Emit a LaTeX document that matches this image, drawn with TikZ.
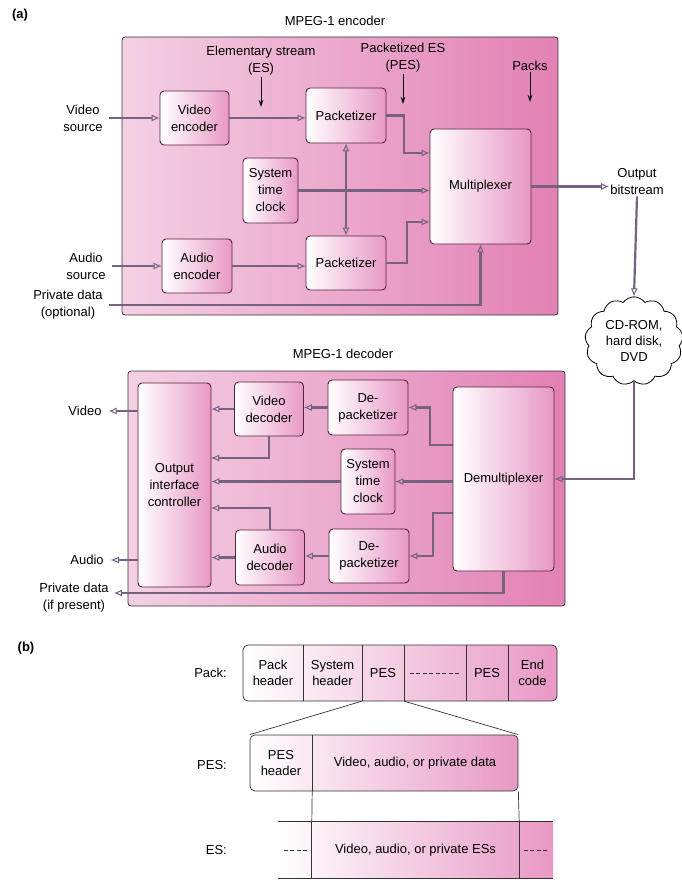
\documentclass[tikz,border=0pt]{standalone}
\usepackage{fontspec}
\setmainfont{Liberation Sans}
\usetikzlibrary{arrows.meta,shapes.symbols}
\definecolor{pinklo}{RGB}{244,208,227}
\definecolor{pinkhi}{RGB}{226,128,180}
\definecolor{boxhi}{RGB}{232,152,196}
\definecolor{flowgray}{RGB}{118,98,128}
\definecolor{rimcol}{RGB}{85,35,60}
\tikzset{
  panel/.style={
    rectangle,
    draw=black!80,
    line width=0.8pt,
    rounded corners=3pt,
    left color=pinklo,
    right color=pinkhi
  },
  unit/.style={
    rectangle,
    draw=rimcol,
    line width=0.9pt,
    rounded corners=4pt,
    left color=white,
    right color=boxhi,
    align=center,
    inner sep=0pt,
    font=\fontsize{13}{17}\selectfont
  },
  lbl/.style={
    align=center,
    inner sep=1pt,
    font=\fontsize{13}{17}\selectfont
  },
  flow/.style={
    -{Latex[open,length=8pt,width=7pt,line width=1pt]},
    draw=flowgray,
    line width=2.2pt
  },
  flowboth/.style={
    flow,
    {Latex[open,length=8pt,width=7pt,line width=1pt]}-{Latex[open,length=8pt,width=7pt,line width=1pt]}
  },
  tag/.style={
    -{Stealth[length=7pt,width=4.5pt]},
    line width=0.8pt
  },
  cell/.style={
    rectangle,
    inner sep=0pt,
    align=center,
    minimum height=56,
    font=\fontsize{13}{16}\selectfont
  },
  rule/.style={line width=0.7pt, draw=black!80}
}
\begin{document}
\begin{tikzpicture}[x=1pt,y=-1pt]
  \useasboundingbox (0,0) rectangle (682,880);

  % (a) encoder
  \node[font=\bfseries\fontsize{13}{15}\selectfont] (tga) at (20,15) {(a)};
  \node[lbl] (enct) at (335,21) {MPEG-1 encoder};
  \node[panel, minimum width=436, minimum height=278] (enc) at (340,176) {};

  \node[unit, minimum width=69, minimum height=54] (venc) at (194.5,118) {Video\\encoder};
  \node[unit, minimum width=80, minimum height=55] (pkta) at (346,115.5) {Packetizer};
  \node[unit, minimum width=55, minimum height=65] (stca) at (270.5,190.5) {System\\time\\clock};
  \node[unit, minimum width=70, minimum height=54] (aenc) at (197,266) {Audio\\encoder};
  \node[unit, minimum width=80, minimum height=54] (pktb) at (346,263) {Packetizer};
  \node[unit, minimum width=101, minimum height=115] (mux) at (480.5,186.5) {Multiplexer};

  \node[lbl] (vsrc) at (83,118) {Video\\source};
  \node[lbl] (asrc) at (86,266) {Audio\\source};
  \node[lbl] (prv) at (68,305) {Private data\\(optional)};
  \node[lbl] (esl) at (261,61) {Elementary stream\\(ES)};
  \node[lbl] (pesl) at (403,58) {Packetized ES\\(PES)};
  \node[lbl] (pksl) at (530,66) {Packs};
  \coordinate (esp) at (262,107);
  \coordinate (pesp) at (403,104);
  \coordinate (pksp) at (530,102);
  \coordinate (ja) at (404,153);
  \coordinate (jb) at (407,222);

  \draw[tag] (esl.south) -- (esl.south |- esp);
  \draw[tag] (pesl.south) -- (pesl.south |- pesp);
  \draw[tag] (pksl.south) -- (pksl.south |- pksp);

  \draw[flow] ([xshift=5pt]vsrc.east) -- (venc.west);
  \draw[flow] ([xshift=5pt]asrc.east) -- (aenc.west);
  \draw[flow] (venc.east) -- (venc.east -| pkta.west);
  \draw[flow] (aenc.east) -- (aenc.east -| pktb.west);
  \draw[flow] (pkta.east) -| (ja) -- (ja -| mux.west);
  \draw[flow] (pktb.east) -| (jb) -- (jb -| mux.west);
  \draw[flow] (stca.east) -- (stca.east -| mux.west);
  \draw[flowboth] (pkta.south) -- (pktb.north);
  \draw[flow] ([xshift=5pt]prv.east) -| (mux.south);

  % output and storage
  \node[lbl] (outl) at (637,182) {Output\\bitstream};
  \node[cloud, cloud puffs=13, cloud puff arc=110, draw, line width=0.8pt, fill=white,
    minimum width=98, minimum height=86, inner sep=0pt, align=center,
    font=\fontsize{13}{16}\selectfont] (store) at (634,341) {CD-ROM,\\hard disk,\\DVD};
  \draw[flow] (mux.east) -- (mux.east -| outl.west);
  \draw[flow] (outl.south) -- (store.north);

  % decoder
  \node[lbl] (dect) at (343,354) {MPEG-1 decoder};
  \node[panel, minimum width=437, minimum height=235] (dec) at (346.5,488.5) {};

  \node[unit, minimum width=73, minimum height=204] (oic) at (174.5,485) {Output\\interface\\controller};
  \node[unit, minimum width=69, minimum height=54] (vdec) at (269,409) {Video\\decoder};
  \node[unit, minimum width=80, minimum height=55] (dpka) at (368,407.5) {De-\\packetizer};
  \node[unit, minimum width=54, minimum height=65] (stcb) at (368,481.5) {System\\time\\clock};
  \node[unit, minimum width=69, minimum height=55] (adec) at (270,557.5) {Audio\\decoder};
  \node[unit, minimum width=80, minimum height=54] (dpkb) at (369,556) {De-\\packetizer};
  \node[unit, minimum width=101, minimum height=184] (dmx) at (503.5,479) {Demultiplexer};

  \node[lbl] (vout) at (85,411) {Video};
  \node[lbl] (aout) at (87,560) {Audio};
  \node[lbl] (pout) at (74,598) {Private data\\(if present)};
  \coordinate (ka) at (430,445);
  \coordinate (kb) at (433,513);
  \coordinate (kc) at (211,458);
  \coordinate (kd) at (211,508);

  \draw[flow] (store.south) |- (dmx.east);
  \draw[flow] (ka -| dmx.west) -- (ka) |- (dpka.east);
  \draw[flow] (dmx.west |- stcb.east) -- (stcb.east);
  \draw[flow] (kb -| dmx.west) -- (kb) |- (dpkb.east);
  \draw[flow] (dpka.west) -- (dpka.west -| vdec.east);
  \draw[flow] (dpkb.west) -- (dpkb.west -| adec.east);
  \draw[flow] (vdec.west) -- (vdec.west -| oic.east);
  \draw[flow] (adec.west) -- (adec.west -| oic.east);
  \draw[flow] (vdec.south) |- (kc);
  \draw[flow] (adec.north) |- (kd);
  \draw[flow] (stcb.west) -- (stcb.west -| oic.east);
  \draw[flow] (oic.west |- vout.east) -- ([xshift=6pt]vout.east);
  \draw[flow] (oic.west |- aout.east) -- ([xshift=6pt]aout.east);
  \draw[flow] (dmx.south) |- ([xshift=4pt,yshift=5pt]pout.east);

  % (b) stream layout
  \node[font=\bfseries\fontsize{13}{15}\selectfont] (tgb) at (26,648) {(b)};

  \node[lbl, anchor=east] (packl) at (228,673) {Pack:};
  \node[rectangle, draw=black!80, line width=0.7pt, rounded corners=5pt,
    left color=white, right color=boxhi, minimum width=314, minimum height=56] (packbar) at (400,673) {};
  \node[cell, minimum width=60] (ph) at (273,673) {Pack\\header};
  \node[cell, minimum width=59] (sh) at (332.5,673) {System\\header};
  \node[cell, minimum width=42] (pes1) at (383,673) {PES};
  \node[cell, minimum width=62] (dd) at (435,673) {};
  \node[cell, minimum width=42] (pes2) at (487,673) {PES};
  \node[cell, minimum width=49] (endc) at (532.5,673) {End\\code};
  \foreach \c in {ph,sh,pes1,dd,pes2}
    \draw[rule] (\c.north east) -- (\c.south east);
  \draw[rule, dash pattern=on 4pt off 2.5pt] ([xshift=6pt]dd.west) -- ([xshift=-6pt]dd.east);

  \node[lbl, anchor=east] (pesl2) at (228,765) {PES:};
  \node[rectangle, draw=black!80, line width=0.7pt, rounded corners=5pt,
    left color=white, right color=boxhi, minimum width=268, minimum height=56] (pesbar) at (384,763) {};
  \node[cell, minimum width=62] (pesh) at (281,763) {PES\\header};
  \node[cell, minimum width=206] (pesd) at (415,763) {Video, audio, or private data};
  \draw[rule] (pesh.north east) -- (pesh.south east);
  \draw[rule] (pes1.south west) -- (pesbar.north west);
  \draw[rule] (pes1.south east) -- (pesbar.north east);

  \node[lbl, anchor=east] (esl2) at (228,850) {ES:};
  \node[rectangle, inner sep=0pt, left color=white, right color=boxhi,
    minimum width=275, minimum height=56] (esbar) at (415.5,850) {};
  \node[cell, minimum width=34] (esa) at (295,850) {};
  \node[cell, minimum width=207] (esm) at (415.5,850) {Video, audio, or private ESs};
  \node[cell, minimum width=34] (esb) at (536,850) {};
  \draw[rule] (esbar.north west) -- (esbar.north east);
  \draw[rule] (esbar.south west) -- (esbar.south east);
  \draw[rule] (esm.north west) -- (esm.south west);
  \draw[rule] (esm.north east) -- (esm.south east);
  \draw[rule, dash pattern=on 4pt off 2.5pt] ([xshift=6pt]esa.west) -- ([xshift=-5pt]esa.east);
  \draw[rule, dash pattern=on 4pt off 2.5pt] ([xshift=5pt]esb.west) -- ([xshift=-6pt]esb.east);
  \draw[rule] (pesh.south east) -- (esm.north west);
  \draw[rule] (pesbar.south east) -- (esm.north east);
\end{tikzpicture}
\end{document}
